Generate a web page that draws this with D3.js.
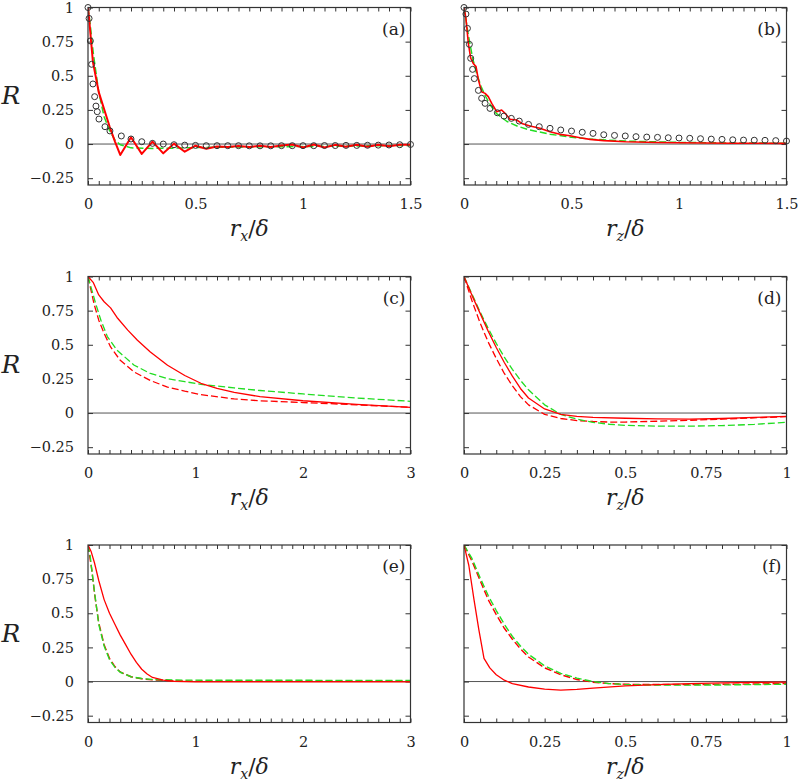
<!DOCTYPE html>
<html><head><meta charset="utf-8">
<script src="https://cdn.jsdelivr.net/npm/d3@7"></script>
<style>
body{margin:0;background:#fff;}
svg{display:block;}
text{font-family:"DejaVu Serif","Liberation Serif",serif;fill:#222;}
</style></head>
<body><svg id="chart" width="800" height="784"></svg>
<script>
// ---------- DATA ----------
const yTickLabels = [-0.25, 0, 0.25, 0.5, 0.75, 1];
const panelLetters = ["(a)", "(b)", "(c)", "(d)", "(e)", "(f)"];

// (a) r_x, near-wall / circles = reference data
const aCircles = [[0,1],[0.005,0.92],[0.011,0.755],[0.017,0.584],[0.023,0.44],[0.031,0.347],[0.037,0.278],[0.043,0.237],[0.051,0.183],[0.079,0.127],[0.102,0.096],[0.155,0.059],[0.2,0.037],[0.25,0.017],[0.3,0.005],[0.35,0.0],[0.4,-0.005],[0.45,-0.008],[0.5,-0.01],[0.55,-0.012],[0.6,-0.012],[0.65,-0.012],[0.7,-0.012],[0.75,-0.013],[0.8,-0.013],[0.85,-0.013],[0.9,-0.012],[0.95,-0.012],[1.0,-0.012],[1.05,-0.012],[1.1,-0.011],[1.15,-0.011],[1.2,-0.01],[1.25,-0.01],[1.3,-0.009],[1.35,-0.008],[1.4,-0.007],[1.45,-0.005],[1.5,-0.003]];
const aRed = [[0,1],[0.005,0.92],[0.023,0.6],[0.05,0.38],[0.1,0.13],[0.125,0.02],[0.15,-0.08],[0.2,0.05],[0.25,-0.072],[0.3,0.018],[0.35,-0.068],[0.4,0.003],[0.45,-0.056],[0.5,-0.012],[0.55,-0.034],[0.6,-0.018],[0.65,-0.022],[0.7,-0.014],[0.75,-0.022],[0.8,-0.012],[0.85,-0.022],[0.9,-0.01],[0.95,-0.004],[1.0,-0.026],[1.05,-0.004],[1.1,-0.026],[1.15,-0.006],[1.2,-0.02],[1.25,-0.005],[1.3,-0.02],[1.35,-0.005],[1.4,-0.016],[1.45,-0.006],[1.5,-0.005]];
const aGreen = [[0,1],[0.01,0.88],[0.025,0.66],[0.05,0.38],[0.075,0.2],[0.1,0.1],[0.125,0.03],[0.15,-0.005],[0.2,-0.028],[0.3,-0.032],[0.4,-0.03],[0.5,-0.026],[0.7,-0.022],[1.0,-0.018],[1.25,-0.014],[1.5,-0.01]];

// (b) r_z
const bCircles = [[0,1],[0.009,0.952],[0.016,0.847],[0.025,0.73],[0.031,0.628],[0.04,0.547],[0.048,0.479],[0.067,0.393],[0.082,0.335],[0.098,0.298],[0.121,0.261],[0.155,0.229],[0.186,0.205],[0.22,0.188],[0.257,0.168],[0.3,0.144],[0.35,0.127],[0.4,0.115],[0.45,0.103],[0.5,0.095],[0.55,0.086],[0.6,0.078],[0.65,0.068],[0.7,0.063],[0.75,0.059],[0.8,0.054],[0.85,0.051],[0.9,0.049],[0.95,0.046],[1.0,0.044],[1.05,0.042],[1.1,0.039],[1.15,0.036],[1.2,0.034],[1.25,0.031],[1.3,0.029],[1.35,0.028],[1.4,0.027],[1.45,0.025],[1.5,0.022]];
const bRed = [[0,1],[0.009,0.92],[0.02,0.74],[0.031,0.63],[0.043,0.59],[0.056,0.567],[0.067,0.47],[0.082,0.383],[0.098,0.371],[0.113,0.347],[0.129,0.298],[0.152,0.237],[0.175,0.249],[0.191,0.225],[0.214,0.181],[0.245,0.176],[0.269,0.151],[0.307,0.132],[0.353,0.115],[0.4,0.09],[0.446,0.071],[0.493,0.061],[0.539,0.046],[0.586,0.034],[0.65,0.025],[0.75,0.017],[0.9,0.011],[1.0,0.009],[1.25,0.006],[1.5,0.005]];
const bGreen = [[0,1],[0.01,0.9],[0.02,0.8],[0.04,0.63],[0.06,0.51],[0.08,0.42],[0.1,0.35],[0.125,0.28],[0.15,0.225],[0.2,0.165],[0.25,0.13],[0.3,0.105],[0.4,0.072],[0.5,0.05],[0.6,0.035],[0.75,0.022],[1.0,0.012],[1.25,0.008],[1.5,0.006]];

// (c) r_x
const cRedSolid = [[0,1],[0.05,0.955],[0.1,0.865],[0.15,0.815],[0.21,0.77],[0.27,0.7],[0.37,0.607],[0.46,0.533],[0.58,0.447],[0.74,0.35],[0.9,0.275],[1.05,0.218],[1.2,0.18],[1.36,0.152],[1.6,0.12],[2.0,0.09],[2.5,0.063],[3.0,0.042]];
const cRedDash = [[0,1],[0.025,0.91],[0.056,0.8],[0.1,0.68],[0.15,0.583],[0.21,0.484],[0.3,0.386],[0.43,0.3],[0.58,0.238],[0.74,0.19],[0.9,0.16],[1.05,0.135],[1.36,0.103],[1.6,0.09],[2.0,0.077],[2.5,0.06],[3.0,0.042]];
const cGreen = [[0,1],[0.025,0.93],[0.07,0.805],[0.12,0.68],[0.18,0.56],[0.27,0.46],[0.43,0.35],[0.58,0.29],[0.74,0.252],[0.9,0.23],[1.05,0.21],[1.36,0.184],[1.6,0.165],[2.0,0.14],[2.5,0.11],[3.0,0.086]];

// (d) r_z
const dRedSolid = [[0,1],[0.025,0.86],[0.05,0.73],[0.075,0.6],[0.1,0.48],[0.125,0.37],[0.15,0.27],[0.175,0.18],[0.2,0.11],[0.25,0.03],[0.3,-0.01],[0.35,-0.025],[0.4,-0.032],[0.5,-0.038],[0.6,-0.043],[0.7,-0.044],[0.8,-0.04],[0.9,-0.032],[1.0,-0.025]];
const dRedDash = [[0,1],[0.025,0.82],[0.05,0.66],[0.075,0.52],[0.1,0.4],[0.125,0.29],[0.15,0.2],[0.175,0.12],[0.2,0.06],[0.25,-0.01],[0.3,-0.04],[0.35,-0.055],[0.4,-0.062],[0.45,-0.066],[0.5,-0.066],[0.6,-0.06],[0.7,-0.053],[0.8,-0.045],[0.9,-0.035],[1.0,-0.027]];
const dGreen = [[0,1],[0.025,0.87],[0.05,0.74],[0.075,0.62],[0.1,0.51],[0.125,0.41],[0.15,0.32],[0.175,0.24],[0.2,0.17],[0.25,0.06],[0.3,-0.01],[0.35,-0.045],[0.4,-0.068],[0.45,-0.082],[0.5,-0.09],[0.6,-0.096],[0.7,-0.096],[0.8,-0.092],[0.9,-0.083],[1.0,-0.068]];

// (e) r_x
const eRedSolid = [[0,1],[0.03,0.95],[0.06,0.87],[0.1,0.74],[0.15,0.6],[0.2,0.5],[0.25,0.42],[0.3,0.34],[0.35,0.27],[0.4,0.2],[0.45,0.14],[0.5,0.09],[0.55,0.055],[0.6,0.03],[0.7,0.01],[0.8,0.002],[1,-0.002],[2,-0.003],[3,-0.003]];
const eRedDash = [[0,1],[0.035,0.82],[0.065,0.62],[0.1,0.43],[0.15,0.27],[0.2,0.17],[0.25,0.11],[0.3,0.07],[0.4,0.035],[0.5,0.02],[0.6,0.012],[0.8,0.005],[1,0.003],[2,0.002],[3,0.002]];
const eGreen = [[0,1],[0.02,0.92],[0.05,0.72],[0.1,0.42],[0.15,0.26],[0.2,0.16],[0.25,0.105],[0.3,0.068],[0.4,0.035],[0.5,0.022],[0.6,0.015],[0.8,0.011],[1,0.01],[2,0.009],[3,0.008]];

// (f) r_z
const fRedSolid = [[0,1],[0.015,0.85],[0.031,0.6],[0.046,0.38],[0.062,0.17],[0.08,0.1],[0.1,0.05],[0.125,0.01],[0.15,-0.015],[0.2,-0.04],[0.25,-0.056],[0.3,-0.063],[0.35,-0.058],[0.4,-0.048],[0.5,-0.032],[0.6,-0.022],[0.7,-0.016],[0.8,-0.01],[0.9,-0.006],[1.0,-0.004]];
const fRedDash = [[0,1],[0.025,0.88],[0.05,0.74],[0.075,0.6],[0.1,0.49],[0.125,0.39],[0.15,0.31],[0.175,0.24],[0.2,0.18],[0.25,0.1],[0.3,0.05],[0.35,0.015],[0.4,-0.005],[0.45,-0.015],[0.5,-0.02],[0.6,-0.022],[0.7,-0.022],[0.8,-0.02],[0.9,-0.018],[1.0,-0.015]];
const fGreen = [[0,1],[0.025,0.9],[0.05,0.76],[0.075,0.63],[0.1,0.52],[0.125,0.42],[0.15,0.33],[0.175,0.26],[0.2,0.2],[0.25,0.115],[0.3,0.06],[0.35,0.025],[0.4,0.0],[0.45,-0.015],[0.5,-0.022],[0.6,-0.026],[0.7,-0.026],[0.8,-0.025],[0.9,-0.022],[1.0,-0.02]];

// ---------- LAYOUT ----------
const colX = [88, 464];
const rowY = [7.5, 276.5, 545];
const PW = 322.5, PH = 177.5;
const RED = "#ff0000", GREEN = "#22dd22";
const FONT = '"DejaVu Serif", "Liberation Serif", serif';

const panels = [
  {col:0,row:0,xMax:1.5,xStep:0.05,xMajor:0.5,sub:"x",circles:aCircles,
   series:[{d:aGreen,c:GREEN,dash:true,w:1.5},{d:aRed,c:RED,dash:false,w:2}]},
  {col:1,row:0,xMax:1.5,xStep:0.05,xMajor:0.5,sub:"z",circles:bCircles,
   series:[{d:bGreen,c:GREEN,dash:true,w:1.5},{d:bRed,c:RED,dash:false,w:1.6}]},
  {col:0,row:1,xMax:3,xStep:0.1,xMajor:1,sub:"x",
   series:[{d:cRedDash,c:RED,dash:true,w:1.3},{d:cGreen,c:GREEN,dash:true,w:1.3},{d:cRedSolid,c:RED,dash:false,w:1.3}]},
  {col:1,row:1,xMax:1,xStep:0.05,xMajor:0.25,sub:"z",
   series:[{d:dRedDash,c:RED,dash:true,w:1.3},{d:dGreen,c:GREEN,dash:true,w:1.3},{d:dRedSolid,c:RED,dash:false,w:1.3}]},
  {col:0,row:2,xMax:3,xStep:0.1,xMajor:1,sub:"x",
   series:[{d:eRedDash,c:RED,dash:true,w:1.4},{d:eGreen,c:GREEN,dash:true,w:1.4},{d:eRedSolid,c:RED,dash:false,w:1.3}]},
  {col:1,row:2,xMax:1,xStep:0.05,xMajor:0.25,sub:"z",
   series:[{d:fRedDash,c:RED,dash:true,w:1.4},{d:fGreen,c:GREEN,dash:true,w:1.4},{d:fRedSolid,c:RED,dash:false,w:1.3}]}
];

const svg = d3.select("#chart");
const fmt = v => { const r = +v.toFixed(2); return r < 0 ? "\u2212" + Math.abs(r) : String(r); };

panels.forEach((p, i) => {
  const x0 = colX[p.col], y0 = rowY[p.row];
  const g = svg.append("g").attr("transform", `translate(${x0},${y0})`)
    .style("font-family", FONT);
  const x = d3.scaleLinear().domain([0, p.xMax]).range([0, PW]);
  const y = d3.scaleLinear().domain([-0.3, 1]).range([PH, 0]);

  const nX = Math.round(p.xMax / p.xStep);
  const xTicks = d3.range(nX + 1).map(k => +(k * p.xStep).toFixed(4));
  const isMajor = v => Math.abs(v / p.xMajor - Math.round(v / p.xMajor)) < 1e-6;

  const clipId = "clip" + i;
  g.append("clipPath").attr("id", clipId).append("rect").attr("width", PW).attr("height", PH);

  // zero line
  g.append("line").attr("x1", 0).attr("x2", PW).attr("y1", y(0)).attr("y2", y(0))
    .attr("stroke", "#555").attr("stroke-width", 1);

  // axes (inward ticks)
  const styleAxis = sel => {
    sel.attr("font-family", null).style("font-family", FONT);
    sel.select(".domain").remove();
    sel.selectAll(".tick line").attr("stroke", "#333").attr("stroke-width", 1);
    sel.selectAll("text").attr("font-size", 14.5).attr("fill", "#222").style("font-family", FONT);
  };
  g.append("g").attr("transform", `translate(0,${PH})`)
    .call(d3.axisBottom(x).tickValues(xTicks).tickSize(-4).tickPadding(14)
      .tickFormat(v => isMajor(v) ? fmt(v) : ""))
    .call(styleAxis);
  g.append("g")
    .call(d3.axisTop(x).tickValues(xTicks).tickSize(-4).tickFormat(""))
    .call(styleAxis);
  g.append("g")
    .call(d3.axisLeft(y).tickValues(yTickLabels).tickSize(-5).tickPadding(14)
      .tickFormat(p.col === 0 ? fmt : ""))
    .call(styleAxis);
  g.append("g").attr("transform", `translate(${PW},0)`)
    .call(d3.axisRight(y).tickValues(yTickLabels).tickSize(-5).tickFormat(""))
    .call(styleAxis);

  // series
  const line = d3.line().x(d => x(d[0])).y(d => y(d[1]));
  const plot = g.append("g").attr("clip-path", `url(#${clipId})`);
  p.series.forEach(s => {
    plot.append("path").datum(s.d).attr("d", line).attr("fill", "none")
      .attr("stroke", s.c).attr("stroke-width", s.w)
      .attr("stroke-linejoin", "round")
      .attr("stroke-dasharray", s.dash ? "7,3" : null);
  });
  if (p.circles) {
    g.append("g").selectAll("circle").data(p.circles).join("circle")
      .attr("cx", d => x(d[0])).attr("cy", d => y(d[1])).attr("r", 3)
      .attr("fill", "none").attr("stroke", "#333").attr("stroke-width", 1);
  }

  // border
  g.append("rect").attr("width", PW).attr("height", PH).attr("fill", "none")
    .attr("stroke", "#333").attr("stroke-width", 1.2);

  // panel letter
  g.append("text").attr("x", PW - 5).attr("y", 27).attr("text-anchor", "end")
    .attr("font-size", 17).text(panelLetters[i]);

  // x axis title: r_x/δ
  const t = g.append("text").attr("x", PW / 2).attr("y", PH + 51)
    .attr("text-anchor", "middle").attr("font-size", 22);
  t.append("tspan").attr("font-style", "italic").text("r");
  t.append("tspan").attr("font-style", "italic").attr("font-size", 14).attr("dy", 5).text(p.sub);
  t.append("tspan").attr("dy", -5).text("/");
  t.append("tspan").attr("font-style", "italic").text("δ");

  // y axis title
  if (p.col === 0) {
    g.append("text").attr("x", -77).attr("y", PH / 2 + 8).attr("text-anchor", "middle")
      .attr("font-size", 25).attr("font-style", "italic").text("R");
  }
});
</script></body></html>
